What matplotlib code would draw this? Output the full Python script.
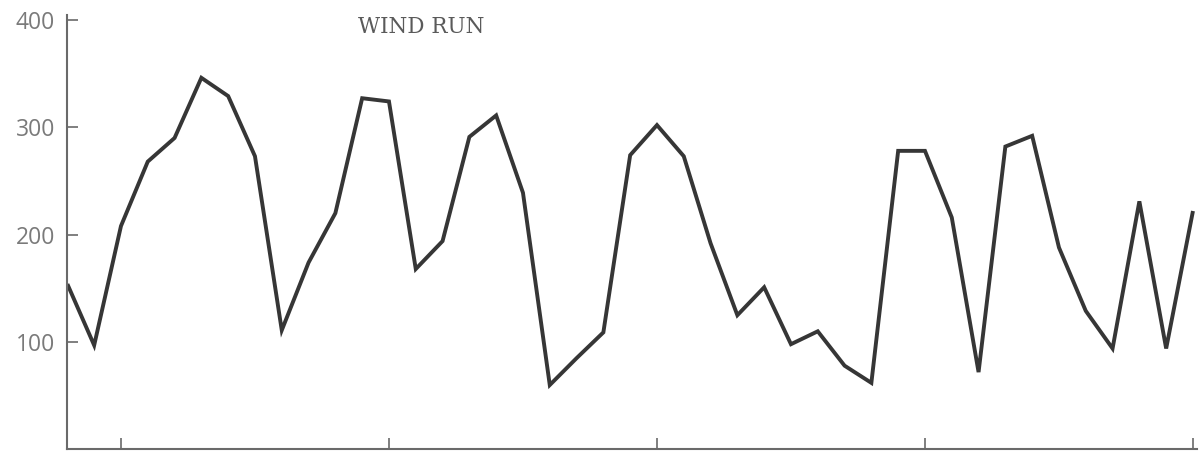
import matplotlib
matplotlib.use("Agg")
import matplotlib.pyplot as plt

# Daily wind run readings
days = list(range(43))
wind_run = [154, 97, 208, 268, 290, 346, 329, 273, 111, 174,
            220, 327, 324, 168, 194, 291, 311, 239, 60, 85,
            109, 274, 302, 273, 192, 125, 151, 98, 110, 78,
            62, 278, 278, 216, 72, 282, 292, 188, 129, 94,
            231, 94, 222]

x_ticks = [2, 12, 22, 32, 42]
y_ticks = [100, 200, 300, 400]
y_tick_labels = ["100", "200", "300", "400"]
title = "WIND RUN"

fig = plt.figure(figsize=(12.03, 4.54), dpi=100)
ax = fig.add_axes([0.056, 0.010, 0.939, 0.957])

ax.plot(days, wind_run, color="#363636", linewidth=2.8,
        solid_joinstyle="miter", solid_capstyle="butt")

ax.set_xlim(0, 42.15)
ax.set_ylim(0, 404.5)

for side in ("top", "right"):
    ax.spines[side].set_visible(False)
for side in ("left", "bottom"):
    ax.spines[side].set_color("#6a6a6a")
    ax.spines[side].set_linewidth(1.5)

ax.set_xticks(x_ticks)
ax.set_xticklabels([])
ax.set_yticks(y_ticks)
ax.set_yticklabels(y_tick_labels)
ax.tick_params(axis="both", direction="in", length=8, width=1.2,
               color="#6a6a6a")
ax.tick_params(axis="y", pad=9, labelsize=16.5, labelcolor="#7a7a7a")
for lbl in ax.get_yticklabels():
    lbl.set_family("Open Sans")

fig.text(421 / 1203, 1 - 27 / 454, title, ha="center", va="center",
         family="DejaVu Serif", fontsize=15.5, color="#5a5a5a")

fig.savefig("out.png", dpi=100)
